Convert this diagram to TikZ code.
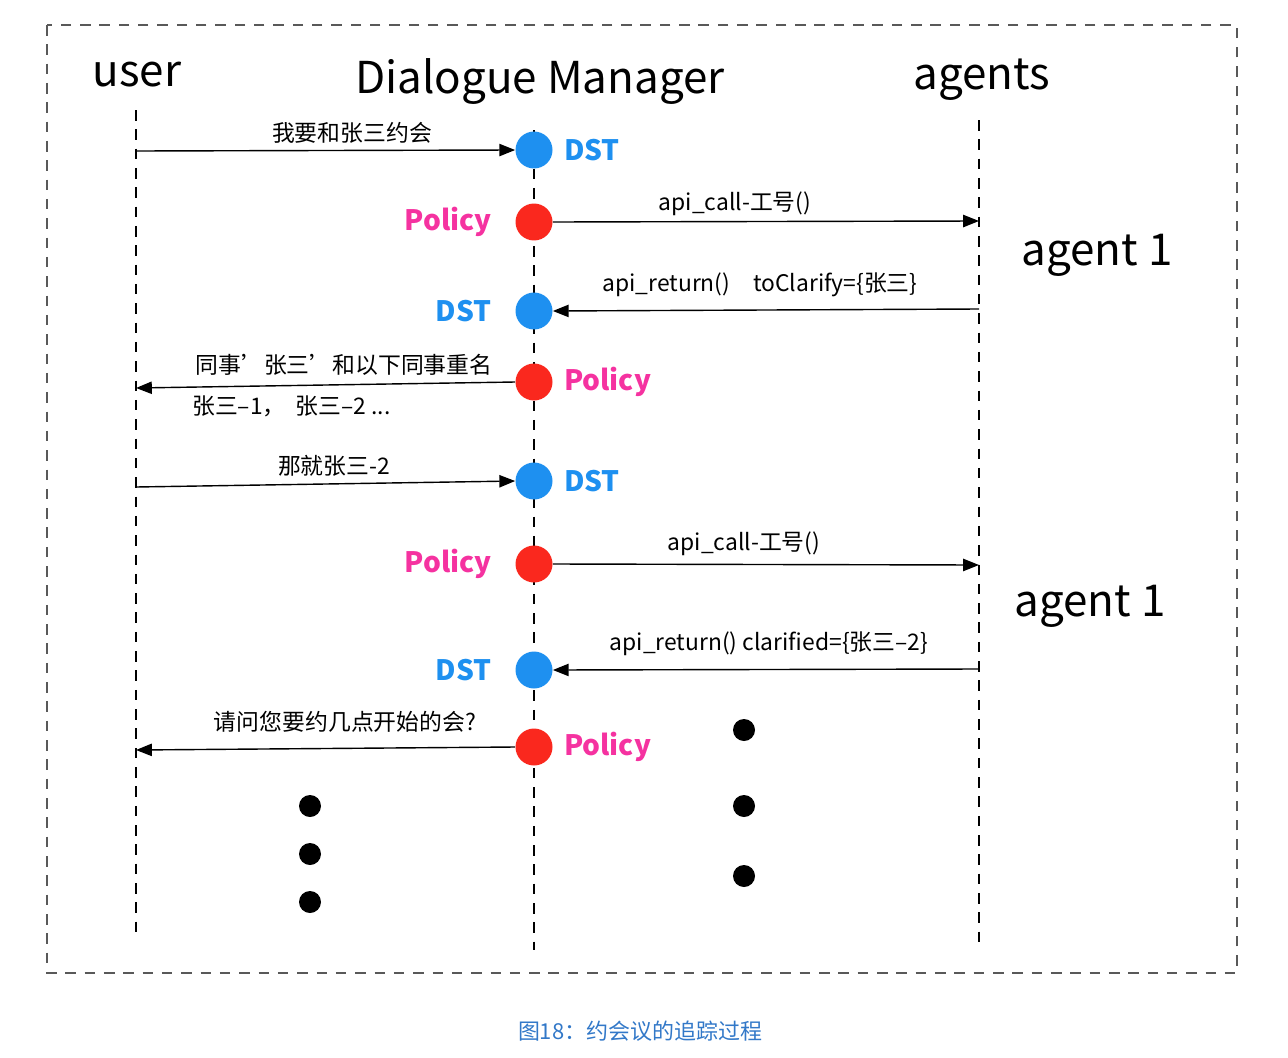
\documentclass[tikz,border=0pt]{standalone}
\usepackage{fontspec}
\setmainfont{Noto Sans CJK SC}
\usetikzlibrary{arrows.meta,positioning}
\definecolor{dstblue}{RGB}{30,144,240}
\definecolor{polred}{RGB}{250,40,30}
\definecolor{polpink}{RGB}{245,50,160}
\definecolor{capblue}{RGB}{50,120,200}
\tikzset{
    %Define standard arrow tip
    >={Triangle[length=9pt,width=7pt]},
    %Define style for states
    dst/.style={
           circle, fill=dstblue, minimum size=0.74cm, inner sep=0pt},
    pol/.style={
           circle, fill=polred, minimum size=0.74cm, inner sep=0pt},
    dstlabel/.style={
           text=dstblue, font=\fontsize{16}{18}\selectfont\bfseries},
    pollabel/.style={
           text=polpink, font=\fontsize{16}{18}\selectfont\bfseries},
    title/.style={
           font=\fontsize{25}{28}\selectfont},
    msg/.style={
           font=\fontsize{13}{15}\selectfont},
    lifeline/.style={
           dashed, thick, dash pattern=on 6pt off 5pt},
    bigdot/.style={
           circle, fill=black, minimum size=0.44cm, inner sep=0pt},
    % Define arrow style
    pil/.style={
           ->,
           thick,}
}
\begin{document}
\begin{tikzpicture}[x=0.02cm,y=-0.02cm]
 \useasboundingbox (0,0) rectangle (1288,1058);
 \draw[lifeline, gray!70!black, line width=1.6pt] (47,25) rectangle (1237,973);

 \node[title] (user) at (137,75) {user};
 \node[title] (dm) at (540,82) {Dialogue Manager};
 \node[title] (agents) at (982,80) {agents};
 \node[title] (agentA) at (1097,255) {agent 1};
 \node[title] (agentB) at (1090,606) {agent 1};

 \draw[lifeline] (136,110) -- (136,935);
 \draw[lifeline] (534,130) -- (534,950);
 \draw[lifeline] (979,120) -- (979,950);

 \node[dst] (s1) at (534,150) {};
 \node[pol] (p1) at (534,222) {};
 \node[dst] (s2) at (534,311) {};
 \node[pol] (p2) at (534,382) {};
 \node[dst] (s3) at (534,481) {};
 \node[pol] (p3) at (534,564) {};
 \node[dst] (s4) at (534,670) {};
 \node[pol] (p4) at (534,747) {};

 \node[dstlabel, right=0.1cm of s1] {DST};
 \node[pollabel, left=0.35cm of p1] {Policy};
 \node[dstlabel, left=0.35cm of s2] {DST};
 \node[pollabel, right=0.1cm of p2] {Policy};
 \node[dstlabel, right=0.1cm of s3] {DST};
 \node[pollabel, left=0.35cm of p3] {Policy};
 \node[dstlabel, left=0.35cm of s4] {DST};
 \node[pollabel, right=0.1cm of p4] {Policy};

 \coordinate (u1) at (136,151);
 \coordinate (u2) at (136,388);
 \coordinate (u3) at (136,487);
 \coordinate (u4) at (136,750);
 \coordinate (a1) at (979,221);
 \coordinate (a2) at (979,309);
 \coordinate (a3) at (979,565);
 \coordinate (a4) at (979,669);

 \draw[pil] (u1) -- (s1.west);
 \draw[pil] (p1.east) -- (a1);
 \draw[pil] (a2) -- (s2.east);
 \draw[pil] (p2.west) -- (u2);
 \draw[pil] (u3) -- (s3.west);
 \draw[pil] (p3.east) -- (a3);
 \draw[pil] (a4) -- (s4.east);
 \draw[pil] (p4.west) -- (u4);

 \node[msg] (m1) at (352,133) {我要和张三约会};
 \node[msg] (m2) at (735,204) {api\_call-工号()};
 \node[msg] (m3) at (760,285) {api\_return()\quad toClarify=\{张三\}};
 \node[msg] (m4) at (344,365) {同事'张三'和以下同事重名};
 \node[msg, anchor=west] (m4b) at (186,406) {张三–1，\ \ 张三–2 ...};
 \node[msg] (m5) at (334,466) {那就张三-2};
 \node[msg] (m6) at (744,544) {api\_call-工号()};
 \node[msg] (m7) at (769,644) {api\_return() clarified=\{张三–2\}};
 \node[msg] (m8) at (345,722) {请问您要约几点开始的会?};

 \foreach \y [count=\i] in {806,854,902}
   \node[bigdot] (ud\i) at (310,\y) {};
 \foreach \y [count=\i] in {730,806,876}
   \node[bigdot] (ad\i) at (744,\y) {};

 \node[text=capblue, font=\fontsize{12.5}{14}\selectfont] (caption) at (640,1031) {图18：约会议的追踪过程};
\end{tikzpicture}
\end{document}
